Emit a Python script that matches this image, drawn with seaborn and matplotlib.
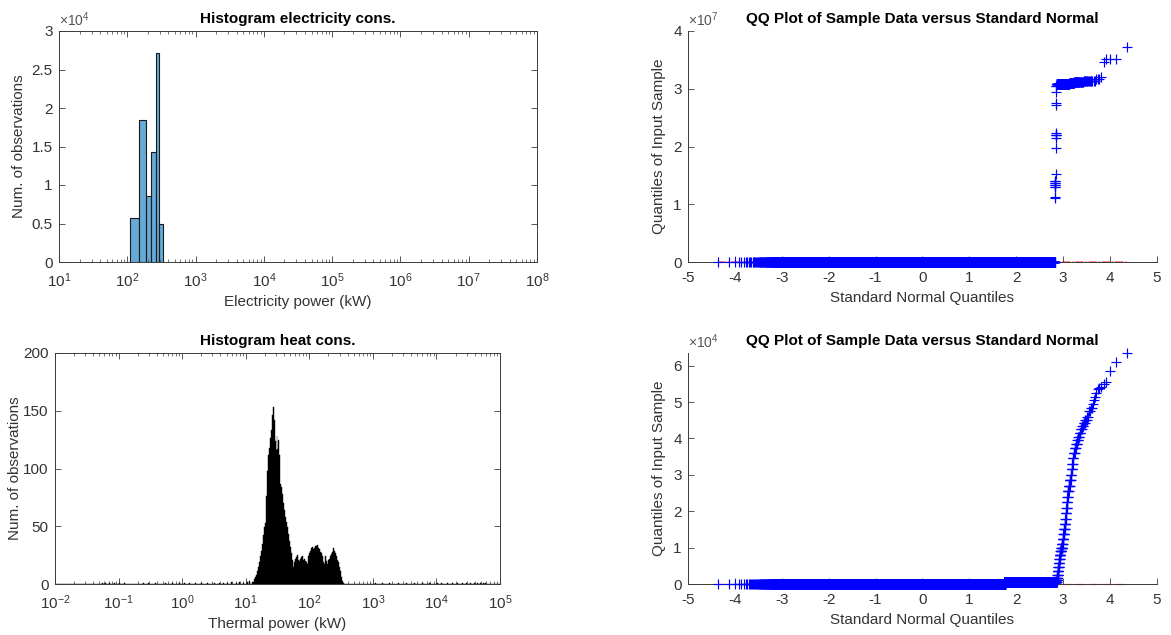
import numpy as np
import matplotlib
matplotlib.use("Agg")
import matplotlib.pyplot as plt
import seaborn as sns
from matplotlib.ticker import FuncFormatter, NullFormatter, FixedLocator, LogFormatterSciNotation
from statistics import NormalDist

# ---------------- data ----------------
# electricity histogram (linear bins, kW)
elec_bin_edges_kw = [111, 148, 185, 222, 259, 296, 333]
elec_counts = [5750, 18400, 8600, 14300, 27100, 4900]

# heat histogram (log-spaced bins, 64 per decade) - main hump starting at ~13 kW
heat_hump_start_kw = 13.2
heat_hump_counts = [2, 4, 6, 8, 11, 15, 19, 24, 29, 35, 42, 49, 53, 76, 98, 112, 118, 126,
                    133, 146, 153, 142, 124, 116, 128, 117, 125, 112, 87, 84, 78, 70, 64, 58,
                    54, 49, 43, 37, 32, 27, 21, 15, 19, 22, 23, 25, 21, 20, 22, 23, 24, 21,
                    22, 20, 19, 17, 24, 27, 29, 31, 32, 30, 31, 33, 33, 34, 31, 30, 28, 27,
                    24, 19, 17, 24, 20, 17, 21, 22, 24, 26, 28, 31, 29, 27, 24, 21, 19, 15,
                    11, 6, 3, 1]
heat_sparse_kw = [0.055, 0.062, 0.07, 0.085, 0.1, 0.12, 0.25, 0.3, 0.38, 0.55, 0.7, 0.9,
                  1.1, 1.3, 1.6, 2.0, 2.5, 3.2, 3.8, 4.5, 5.2, 6.0, 7.0, 8.0, 9.0, 10.5,
                  11.5, 12.5,
                  1100, 1400, 1800, 2500, 3300, 4500, 6000, 8000, 10500, 12000, 15000,
                  18000, 22000, 26000, 30000, 35000, 40000, 45000, 50000, 55000, 60000]
heat_sparse_counts = [1, 1, 1, 1, 1, 1, 1, 1, 1, 1, 1, 1,
                      1, 1, 1, 1, 1, 1, 1, 1, 1, 2, 1, 2, 1, 2,
                      3, 2,
                      1, 1, 1, 1, 1, 1, 1, 1, 1, 1, 1,
                      1, 1, 1, 1, 1, 1, 1, 1, 1, 1]

# electricity QQ sample: histogram bulk + large outliers
elec_outlier_values = [1.10e7, 1.12e7, 1.30e7, 1.33e7, 1.36e7, 1.40e7, 1.52e7, 1.98e7,
                       2.15e7, 2.20e7, 2.24e7, 2.72e7, 2.75e7, 2.95e7, 3.05e7, 3.08e7,
                       3.10e7, 3.12e7, 3.14e7, 3.17e7, 3.20e7, 3.47e7, 3.52e7, 3.72e7]
elec_outlier_counts = [1, 1, 2, 2, 2, 2, 1, 1, 1, 3, 1, 1, 1, 1, 2, 100, 20, 25, 15, 3, 1, 1, 3, 1]

# heat QQ sample (value levels, counts)
heat_qq_values = [0, 100, 450, 1100, 1600, 2500, 3500, 4600, 5800, 7000, 8000, 9000, 10000,
                  11000, 12500, 13800, 15000, 16500, 18000, 19500, 21000, 22500, 24000,
                  25500, 27000, 28500, 30000, 31500, 33000, 34500, 36000, 37500, 38500,
                  39500, 40500, 41500, 42500, 43500, 44300, 45000, 46000, 47500, 48500,
                  49500, 50500, 51500, 52500, 53500, 53800, 54200, 55000, 55500, 58500,
                  61000, 63500]
heat_qq_counts = [20, 76775, 3033, 4, 5, 5, 5, 5, 4, 4, 7, 7, 7,
                  5, 5, 5, 5, 4, 3, 3, 3, 3, 3,
                  5, 5, 5, 3, 3, 3, 3, 4, 4, 4,
                  3, 3, 3, 3, 3, 3, 3, 2, 2, 2,
                  1, 1, 1, 1, 1, 1, 1, 1, 1, 1,
                  1, 1]

# ---------------- style ----------------
sns.set_style("ticks")
plt.rcParams.update({
    "font.size": 11,
    "axes.edgecolor": "#3a3a3a",
    "axes.linewidth": 0.7,
    "xtick.color": "#3a3a3a",
    "ytick.color": "#3a3a3a",
    "xtick.labelcolor": "#333333",
    "ytick.labelcolor": "#333333",
    "axes.labelcolor": "#333333",
    "axes.unicode_minus": False,
    "mathtext.fontset": "custom",
    "mathtext.rm": "Liberation Sans",
    "mathtext.it": "Liberation Sans:italic",
    "mathtext.bf": "Liberation Sans:bold",
    "mathtext.default": "regular",
})
plt.rcParams["font.family"] = ["Liberation Sans", "DejaVu Sans"]

W, H = 1171, 635
fig = plt.figure(figsize=(W / 100, H / 100), dpi=100)


def box(l, t, r, b):
    return [l / W, 1 - b / H, (r - l) / W, (b - t) / H]


ax1 = fig.add_axes(box(59, 31, 537, 262))
ax2 = fig.add_axes(box(688, 31, 1157, 262))
ax3 = fig.add_axes(box(55, 353, 500, 584))
ax4 = fig.add_axes(box(688, 353, 1157, 584))

FS = 11


def tick_style(ax, mirror, ylab_x):
    ax.tick_params(axis="both", which="major", direction="in", length=4, width=0.6,
                   labelsize=FS, top=mirror, right=mirror)
    ax.tick_params(axis="both", which="minor", direction="in", length=2.2, width=0.5,
                   top=mirror, right=mirror)
    ax.tick_params(axis="x", which="major", pad=6.5)
    ax.tick_params(axis="y", which="major", pad=4.5)
    for s in ax.spines.values():
        s.set_visible(True)
    if not mirror:
        ax.spines["top"].set_visible(False)
        ax.spines["right"].set_visible(False)
    ax.yaxis.set_label_coords(ylab_x, 0.5)


def log_ticks(ax, lo, hi):
    ax.xaxis.set_major_locator(FixedLocator([10.0 ** e for e in range(lo, hi + 1)]))
    ax.xaxis.set_major_formatter(LogFormatterSciNotation())
    minors = [m * 10.0 ** e for e in range(lo, hi) for m in range(2, 10)]
    ax.xaxis.set_minor_locator(FixedLocator(minors))
    ax.xaxis.set_minor_formatter(NullFormatter())


def offset_label(ax, txt):
    ax.text(0.0, 1.01, txt, transform=ax.transAxes, ha="left", va="bottom",
            fontsize=10, color="#555555")


def titles(ax, title, xl, yl):
    ax.set_title(title, fontsize=FS, fontweight="bold", color="black", pad=6)
    ax.set_xlabel(xl, fontsize=FS, labelpad=4)
    ax.set_ylabel(yl, fontsize=FS)


# ---------------- electricity histogram ----------------
elec_centers = [(elec_bin_edges_kw[i] + elec_bin_edges_kw[i + 1]) / 2 for i in range(len(elec_counts))]
sns.histplot(x=elec_centers, weights=elec_counts, bins=list(elec_bin_edges_kw), ax=ax1,
             color="#0072BD", alpha=0.6, edgecolor="#1a1a1a", linewidth=0.8)
ax1.set_xscale("log")
ax1.set_xlim(10, 1e8)
ax1.set_ylim(0, 30000)
log_ticks(ax1, 1, 8)
ax1.yaxis.set_major_locator(FixedLocator([0, 5000, 10000, 15000, 20000, 25000, 30000]))
ax1.yaxis.set_major_formatter(FuncFormatter(lambda v, p: f"{v / 1e4:g}"))
tick_style(ax1, True, -0.068)
titles(ax1, "Histogram electricity cons.", "Electricity power (kW)", "Num. of observations")
offset_label(ax1, r"$\times10^{4}$")

# ---------------- heat histogram ----------------
heat_edges = 10.0 ** (np.arange(-128, 321) / 64.0)
i0 = int(np.searchsorted(heat_edges, heat_hump_start_kw)) - 1
hump_centers = [float(np.sqrt(heat_edges[i0 + j] * heat_edges[i0 + j + 1]))
                for j in range(len(heat_hump_counts))]
heat_x = hump_centers + list(heat_sparse_kw)
heat_w = list(heat_hump_counts) + list(heat_sparse_counts)
sns.histplot(x=heat_x, weights=heat_w, bins=heat_edges.tolist(), ax=ax3,
             color="black", alpha=1.0, edgecolor="black", linewidth=0.3)
ax3.set_xscale("log")
ax3.set_xlim(1e-2, 1e5)
ax3.set_ylim(0, 200)
log_ticks(ax3, -2, 5)
ax3.yaxis.set_major_locator(FixedLocator([0, 50, 100, 150, 200]))
tick_style(ax3, True, -0.075)
titles(ax3, "Histogram heat cons.", "Thermal power (kW)", "Num. of observations")


# ---------------- QQ plots ----------------
def qqplot(ax, sample):
    y = np.sort(np.asarray(sample, dtype=float))
    n = len(y)
    nd = NormalDist()
    x = np.array([nd.inv_cdf((i - 0.5) / n) for i in range(1, n + 1)])
    q1y, q3y = np.percentile(y, [25, 75])
    q1x, q3x = nd.inv_cdf(0.25), nd.inv_cdf(0.75)
    slope = (q3y - q1y) / (q3x - q1x)
    icpt = q1y - slope * q1x
    xs = np.array([x.min(), x.max()])
    ax.plot(xs, icpt + slope * xs, color="red", linestyle="-.", linewidth=0.9, zorder=1,
            alpha=0.75, clip_on=False)
    xq = np.array([q1x, q3x])
    ax.plot(xq, icpt + slope * xq, color="red", linestyle="-", linewidth=0.9, zorder=1, clip_on=False)
    sns.scatterplot(x=x, y=y, marker="+", s=42, color="blue", linewidth=0.85, ax=ax, zorder=3,
                    clip_on=False)
    return y


elec_sample = np.concatenate([np.repeat(elec_centers, elec_counts),
                              np.repeat(elec_outlier_values, elec_outlier_counts)])
qqplot(ax2, elec_sample)
ax2.set_xlim(-5, 5)
ax2.set_ylim(0, 4e7)
ax2.xaxis.set_major_locator(FixedLocator(np.arange(-5, 6)))
ax2.yaxis.set_major_locator(FixedLocator([0, 1e7, 2e7, 3e7, 4e7]))
ax2.yaxis.set_major_formatter(FuncFormatter(lambda v, p: f"{v / 1e7:g}"))
ax2.xaxis.set_major_formatter(FuncFormatter(lambda v, p: f"{v:g}"))
tick_style(ax2, False, -0.046)
titles(ax2, "QQ Plot of Sample Data versus Standard Normal", "Standard Normal Quantiles",
       "Quantiles of Input Sample")
offset_label(ax2, r"$\times10^{7}$")

heat_sample = np.repeat(heat_qq_values, heat_qq_counts)
ys = qqplot(ax4, heat_sample)
ax4.set_xlim(-5, 5)
ax4.set_ylim(ys.min(), ys.max())
ax4.xaxis.set_major_locator(FixedLocator(np.arange(-5, 6)))
ax4.yaxis.set_major_locator(FixedLocator([0, 1e4, 2e4, 3e4, 4e4, 5e4, 6e4]))
ax4.yaxis.set_major_formatter(FuncFormatter(lambda v, p: f"{v / 1e4:g}"))
ax4.xaxis.set_major_formatter(FuncFormatter(lambda v, p: f"{v:g}"))
tick_style(ax4, False, -0.046)
titles(ax4, "QQ Plot of Sample Data versus Standard Normal", "Standard Normal Quantiles",
       "Quantiles of Input Sample")
offset_label(ax4, r"$\times10^{4}$")

fig.savefig("out.png", dpi=100)
